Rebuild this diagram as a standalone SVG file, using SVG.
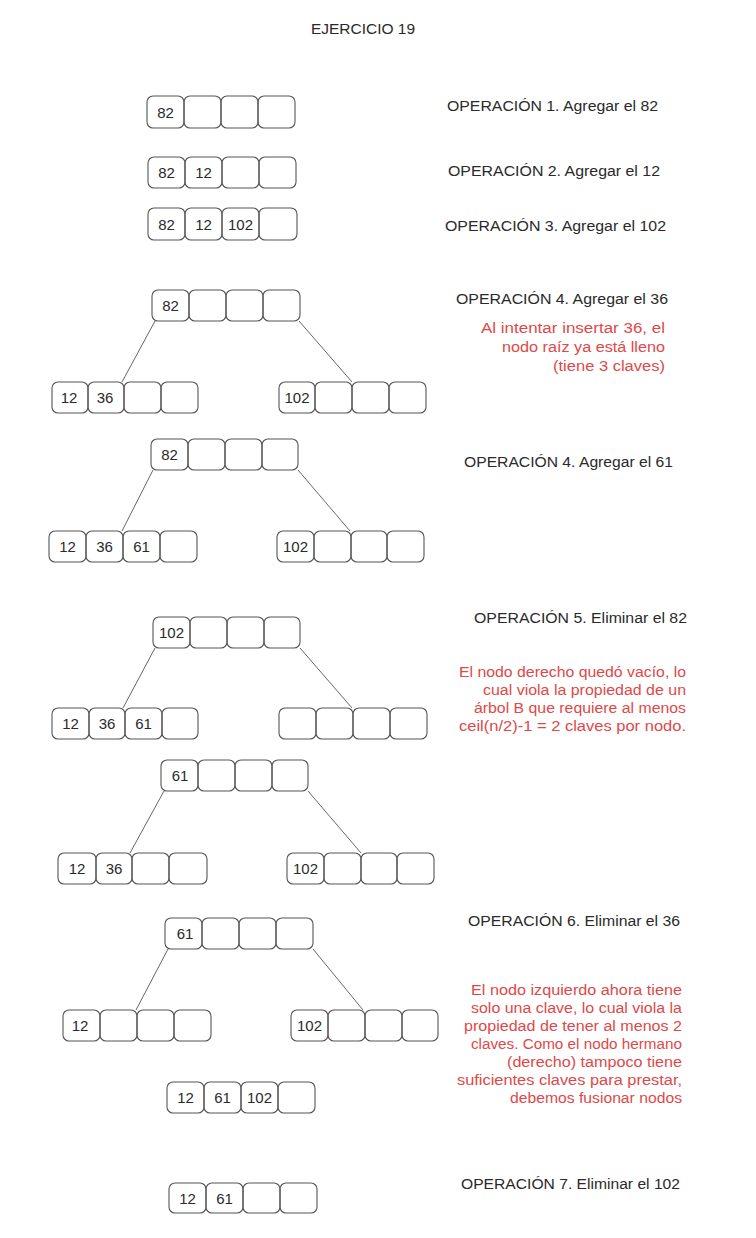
<svg xmlns="http://www.w3.org/2000/svg" width="756" height="1238" viewBox="0 0 756 1238">
<style>
.bg{fill:#ffffff}
.k{fill:none;stroke:#555;stroke-width:1.1}
.kt{font-family:"Liberation Sans",Arial,sans-serif;font-size:15px;fill:#2a2a2a;text-anchor:middle}
.op{font-family:"Liberation Sans",Arial,sans-serif;font-size:15.5px;fill:#2a2a2a}
.note{font-family:"Liberation Sans",Arial,sans-serif;font-size:15.5px;fill:#e04848}
.edge{stroke:#555;stroke-width:0.9;fill:none}
</style>
<rect class="bg" x="0" y="0" width="756" height="1238"/>
<text class="op" x="363" y="34" text-anchor="middle" font-size="14px">EJERCICIO 19</text>

<g id="n1">
<rect class="k" x="147" y="96" width="37" height="32" rx="6"/><rect class="k" x="184" y="96" width="37" height="32" rx="6"/><rect class="k" x="221" y="96" width="37" height="32" rx="6"/><rect class="k" x="258" y="96" width="37" height="32" rx="6"/>
<text class="kt" x="165.5" y="117.5">82</text>
</g>
<g id="n2">
<rect class="k" x="148" y="157" width="37" height="31" rx="6"/><rect class="k" x="185" y="157" width="37" height="31" rx="6"/><rect class="k" x="222" y="157" width="37" height="31" rx="6"/><rect class="k" x="259" y="157" width="37" height="31" rx="6"/>
<text class="kt" x="166.5" y="178">82</text><text class="kt" x="203.5" y="178">12</text>
</g>
<g id="n3">
<rect class="k" x="148" y="208" width="37" height="32" rx="6"/><rect class="k" x="185" y="208" width="37" height="32" rx="6"/><rect class="k" x="222" y="208" width="37" height="32" rx="6"/><rect class="k" x="259" y="208" width="38" height="32" rx="6"/>
<text class="kt" x="166.5" y="229.5">82</text><text class="kt" x="203.5" y="229.5">12</text><text class="kt" x="240.5" y="229.5">102</text>
</g>

<g id="t1root">
<rect class="k" x="152" y="290" width="37" height="31" rx="6"/><rect class="k" x="189" y="290" width="37" height="31" rx="6"/><rect class="k" x="226" y="290" width="37" height="31" rx="6"/><rect class="k" x="263" y="290" width="37" height="31" rx="6"/>
<text class="kt" x="170.5" y="311">82</text>
</g>
<g id="t1L">
<rect class="k" x="52" y="382" width="36" height="31" rx="6"/><rect class="k" x="88" y="382" width="36" height="31" rx="6"/><rect class="k" x="124" y="382" width="37" height="31" rx="6"/><rect class="k" x="161" y="382" width="37" height="31" rx="6"/>
<text class="kt" x="69" y="403">12</text><text class="kt" x="105" y="403">36</text>
</g>
<g id="t1R">
<rect class="k" x="279" y="382" width="36" height="31" rx="6"/><rect class="k" x="315" y="382" width="37" height="31" rx="6"/><rect class="k" x="352" y="382" width="37" height="31" rx="6"/><rect class="k" x="389" y="382" width="37" height="31" rx="6"/>
<text class="kt" x="297" y="403">102</text>
</g>

<g id="t2root">
<rect class="k" x="151" y="439" width="37" height="31" rx="6"/><rect class="k" x="188" y="439" width="37" height="31" rx="6"/><rect class="k" x="225" y="439" width="37" height="31" rx="6"/><rect class="k" x="262" y="439" width="36" height="31" rx="6"/>
<text class="kt" x="169.5" y="460">82</text>
</g>
<g id="t2L">
<rect class="k" x="49" y="531" width="37" height="31" rx="6"/><rect class="k" x="86" y="531" width="37" height="31" rx="6"/><rect class="k" x="123" y="531" width="37" height="31" rx="6"/><rect class="k" x="160" y="531" width="37" height="31" rx="6"/>
<text class="kt" x="67.5" y="552">12</text><text class="kt" x="104.5" y="552">36</text><text class="kt" x="141.5" y="552">61</text>
</g>
<g id="t2R">
<rect class="k" x="277" y="531" width="37" height="31" rx="6"/><rect class="k" x="314" y="531" width="37" height="31" rx="6"/><rect class="k" x="351" y="531" width="36" height="31" rx="6"/><rect class="k" x="387" y="531" width="37" height="31" rx="6"/>
<text class="kt" x="295.5" y="552">102</text>
</g>

<g id="t3root">
<rect class="k" x="153" y="617" width="37" height="31" rx="6"/><rect class="k" x="190" y="617" width="37" height="31" rx="6"/><rect class="k" x="227" y="617" width="37" height="31" rx="6"/><rect class="k" x="264" y="617" width="36" height="31" rx="6"/>
<text class="kt" x="171.5" y="638">102</text>
</g>
<g id="t3L">
<rect class="k" x="52" y="708" width="37" height="31" rx="6"/><rect class="k" x="89" y="708" width="36" height="31" rx="6"/><rect class="k" x="125" y="708" width="37" height="31" rx="6"/><rect class="k" x="162" y="708" width="36" height="31" rx="6"/>
<text class="kt" x="70.5" y="729">12</text><text class="kt" x="107" y="729">36</text><text class="kt" x="143.5" y="729">61</text>
</g>
<g id="t3R">
<rect class="k" x="279" y="708" width="37" height="31" rx="6"/><rect class="k" x="316" y="708" width="37" height="31" rx="6"/><rect class="k" x="353" y="708" width="37" height="31" rx="6"/><rect class="k" x="390" y="708" width="37" height="31" rx="6"/>
</g>

<g id="t4root">
<rect class="k" x="161" y="760" width="37" height="31" rx="6"/><rect class="k" x="198" y="760" width="37" height="31" rx="6"/><rect class="k" x="235" y="760" width="37" height="31" rx="6"/><rect class="k" x="272" y="760" width="36" height="31" rx="6"/>
<text class="kt" x="180" y="781">61</text>
</g>
<g id="t4L">
<rect class="k" x="58" y="853" width="38" height="31" rx="6"/><rect class="k" x="96" y="853" width="36" height="31" rx="6"/><rect class="k" x="132" y="853" width="37" height="31" rx="6"/><rect class="k" x="169" y="853" width="38" height="31" rx="6"/>
<text class="kt" x="77" y="874">12</text><text class="kt" x="114" y="874">36</text>
</g>
<g id="t4R">
<rect class="k" x="287" y="853" width="37" height="31" rx="6"/><rect class="k" x="324" y="853" width="37" height="31" rx="6"/><rect class="k" x="361" y="853" width="36" height="31" rx="6"/><rect class="k" x="397" y="853" width="37" height="31" rx="6"/>
<text class="kt" x="305.5" y="874">102</text>
</g>

<g id="t5root">
<rect class="k" x="165" y="918" width="37" height="31" rx="6"/><rect class="k" x="202" y="918" width="37" height="31" rx="6"/><rect class="k" x="239" y="918" width="37" height="31" rx="6"/><rect class="k" x="276" y="918" width="37" height="31" rx="6"/>
<text class="kt" x="185" y="939">61</text>
</g>
<g id="t5L">
<rect class="k" x="63" y="1010" width="37" height="31" rx="6"/><rect class="k" x="100" y="1010" width="37" height="31" rx="6"/><rect class="k" x="137" y="1010" width="37" height="31" rx="6"/><rect class="k" x="174" y="1010" width="37" height="31" rx="6"/>
<text class="kt" x="80" y="1031">12</text>
</g>
<g id="t5R">
<rect class="k" x="291" y="1010" width="37" height="31" rx="6"/><rect class="k" x="328" y="1010" width="37" height="31" rx="6"/><rect class="k" x="365" y="1010" width="37" height="31" rx="6"/><rect class="k" x="402" y="1010" width="36" height="31" rx="6"/>
<text class="kt" x="309.5" y="1031">102</text>
</g>
<g id="merged">
<rect class="k" x="167" y="1082" width="37" height="31" rx="6"/><rect class="k" x="204" y="1082" width="37" height="31" rx="6"/><rect class="k" x="241" y="1082" width="37" height="31" rx="6"/><rect class="k" x="278" y="1082" width="37" height="31" rx="6"/>
<text class="kt" x="185.5" y="1103">12</text><text class="kt" x="222.5" y="1103">61</text><text class="kt" x="259.5" y="1103">102</text>
</g>
<g id="final">
<rect class="k" x="169" y="1183" width="37" height="30" rx="6"/><rect class="k" x="206" y="1183" width="37" height="30" rx="6"/><rect class="k" x="243" y="1183" width="37" height="30" rx="6"/><rect class="k" x="280" y="1183" width="37" height="30" rx="6"/>
<text class="kt" x="187.5" y="1203.5">12</text><text class="kt" x="224.5" y="1203.5">61</text>
</g>

<g id="connectors">
<line class="edge" x1="155" y1="321" x2="122" y2="382"/>
<line class="edge" x1="299" y1="321" x2="352" y2="382"/>
<line class="edge" x1="153" y1="470" x2="122" y2="531"/>
<line class="edge" x1="298" y1="470" x2="350" y2="531"/>
<line class="edge" x1="155" y1="648" x2="123" y2="708"/>
<line class="edge" x1="300" y1="648" x2="352" y2="708"/>
<line class="edge" x1="164" y1="791" x2="130" y2="853"/>
<line class="edge" x1="308" y1="791" x2="361" y2="853"/>
<line class="edge" x1="168" y1="949" x2="136" y2="1010"/>
<line class="edge" x1="313" y1="949" x2="363" y2="1010"/>
</g>

<g id="labels">
<text class="op" x="447" y="111" textLength="211" lengthAdjust="spacingAndGlyphs">OPERACIÓN 1. Agregar el 82</text>
<text class="op" x="448" y="176" textLength="212" lengthAdjust="spacingAndGlyphs">OPERACIÓN 2. Agregar el 12</text>
<text class="op" x="445" y="231" textLength="221" lengthAdjust="spacingAndGlyphs">OPERACIÓN 3. Agregar el 102</text>
<text class="op" x="456" y="304" textLength="212" lengthAdjust="spacingAndGlyphs">OPERACIÓN 4. Agregar el 36</text>
<text class="op" x="464" y="467" textLength="209" lengthAdjust="spacingAndGlyphs">OPERACIÓN 4. Agregar el 61</text>
<text class="op" x="474" y="623" textLength="213" lengthAdjust="spacingAndGlyphs">OPERACIÓN 5. Eliminar el 82</text>
<text class="op" x="468" y="926" textLength="212" lengthAdjust="spacingAndGlyphs">OPERACIÓN 6. Eliminar el 36</text>
<text class="op" x="461" y="1189" textLength="219" lengthAdjust="spacingAndGlyphs">OPERACIÓN 7. Eliminar el 102</text>
</g>

<g id="note4">
<text class="note" x="481" y="333" textLength="184" lengthAdjust="spacingAndGlyphs">Al intentar insertar 36, el</text>
<text class="note" x="502" y="352" textLength="163" lengthAdjust="spacingAndGlyphs">nodo raíz ya está lleno</text>
<text class="note" x="553" y="371" textLength="112" lengthAdjust="spacingAndGlyphs">(tiene 3 claves)</text>
</g>
<g id="note5">
<text class="note" x="459" y="677" textLength="227" lengthAdjust="spacingAndGlyphs">El nodo derecho quedó vacío, lo</text>
<text class="note" x="483" y="695" textLength="203" lengthAdjust="spacingAndGlyphs">cual viola la propiedad de un</text>
<text class="note" x="474" y="713" textLength="212" lengthAdjust="spacingAndGlyphs">árbol B que requiere al menos</text>
<text class="note" x="459" y="731" textLength="227" lengthAdjust="spacingAndGlyphs">ceil(n/2)-1 = 2 claves por nodo.</text>
</g>
<g id="note6">
<text class="note" x="471" y="995" textLength="211" lengthAdjust="spacingAndGlyphs">El nodo izquierdo ahora tiene</text>
<text class="note" x="471" y="1013" textLength="211" lengthAdjust="spacingAndGlyphs">solo una clave, lo cual viola la</text>
<text class="note" x="464" y="1031" textLength="218" lengthAdjust="spacingAndGlyphs">propiedad de tener al menos 2</text>
<text class="note" x="471" y="1049" textLength="211" lengthAdjust="spacingAndGlyphs">claves. Como el nodo hermano</text>
<text class="note" x="507" y="1067" textLength="175" lengthAdjust="spacingAndGlyphs">(derecho) tampoco tiene</text>
<text class="note" x="457" y="1085" textLength="225" lengthAdjust="spacingAndGlyphs">suficientes claves para prestar,</text>
<text class="note" x="510" y="1103" textLength="172" lengthAdjust="spacingAndGlyphs">debemos fusionar nodos</text>
</g>
</svg>
